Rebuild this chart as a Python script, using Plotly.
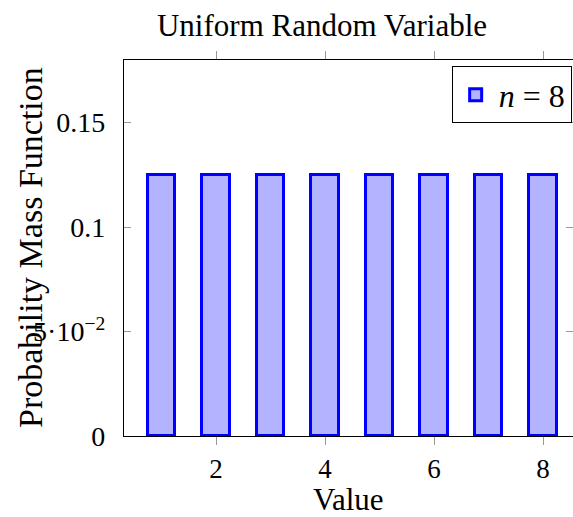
import plotly.graph_objects as go

# Uniform discrete random variable on {1, ..., 8}
values = [1, 2, 3, 4, 5, 6, 7, 8]
pmf = [0.125, 0.125, 0.125, 0.125, 0.125, 0.125, 0.125, 0.125]
series_name = "<i>n</i> = 8"

x_ticks = [2, 4, 6, 8]
y_ticks = [0, 0.05, 0.1, 0.15]
y_tick_text = ["0", "5·10<sup>−2</sup>", "0.1", "0.15"]

FONT = "'Liberation Serif', serif"
W, H = 573, 517
M_L, M_R, M_T, M_B = 124, 0, 60, 81
PLOT_W = W - M_L - M_R
PLOT_H = H - M_T - M_B

fig = go.Figure()
fig.add_bar(
    x=values,
    y=pmf,
    width=0.5,
    name=series_name,
    showlegend=True,
    marker=dict(color="#b3b3ff", line=dict(color="#0000ff", width=3)),
)

fig.update_layout(
    width=W,
    height=H,
    margin=dict(l=M_L, r=M_R, t=M_T, b=M_B),
    paper_bgcolor="white",
    plot_bgcolor="white",
    font=dict(family=FONT, size=28, color="black"),
    title=dict(
        text="Uniform Random Variable",
        font=dict(family=FONT, size=31),
        x=322 / W,
        xanchor="center",
        xref="container",
        y=1 - 25 / H,
        yanchor="middle",
        yref="container",
    ),
    showlegend=True,
    legend=dict(
        x=0.997,
        xanchor="right",
        y=0.983,
        yanchor="top",
        bordercolor="black",
        borderwidth=1,
        bgcolor="white",
        itemwidth=36,
        font=dict(family=FONT, size=32),
    ),
    bargap=0,
)

# axis labels placed as annotations so they can sit close to the tick labels
fig.add_annotation(
    text="Probability Mass Function",
    xref="paper",
    yref="paper",
    x=-(M_L - 30) / PLOT_W,
    y=0.5,
    xanchor="center",
    yanchor="middle",
    textangle=-90,
    showarrow=False,
    font=dict(family=FONT, size=34),
)
fig.add_annotation(
    text="Value",
    xref="paper",
    yref="paper",
    x=0.5,
    y=-(499 - (M_T + PLOT_H)) / PLOT_H,
    xanchor="center",
    yanchor="middle",
    showarrow=False,
    font=dict(family=FONT, size=31),
)

fig.update_xaxes(
    range=[0.31, 8.55],
    tickvals=x_ticks,
    ticks="outside",
    ticklen=8,
    tickcolor="#999999",
    showline=True,
    linecolor="black",
    linewidth=1.2,
    mirror="ticks",
    showgrid=False,
    zeroline=False,
    tickfont=dict(family=FONT, size=27),
)

fig.update_yaxes(
    range=[0, 0.18],
    tickvals=y_ticks,
    ticktext=y_tick_text,
    ticks="inside",
    ticklen=7,
    tickcolor="#999999",
    showline=True,
    linecolor="black",
    linewidth=1.2,
    mirror="ticks",
    showgrid=False,
    zeroline=False,
    ticklabelstandoff=12,
)

fig.write_html("out.html")
